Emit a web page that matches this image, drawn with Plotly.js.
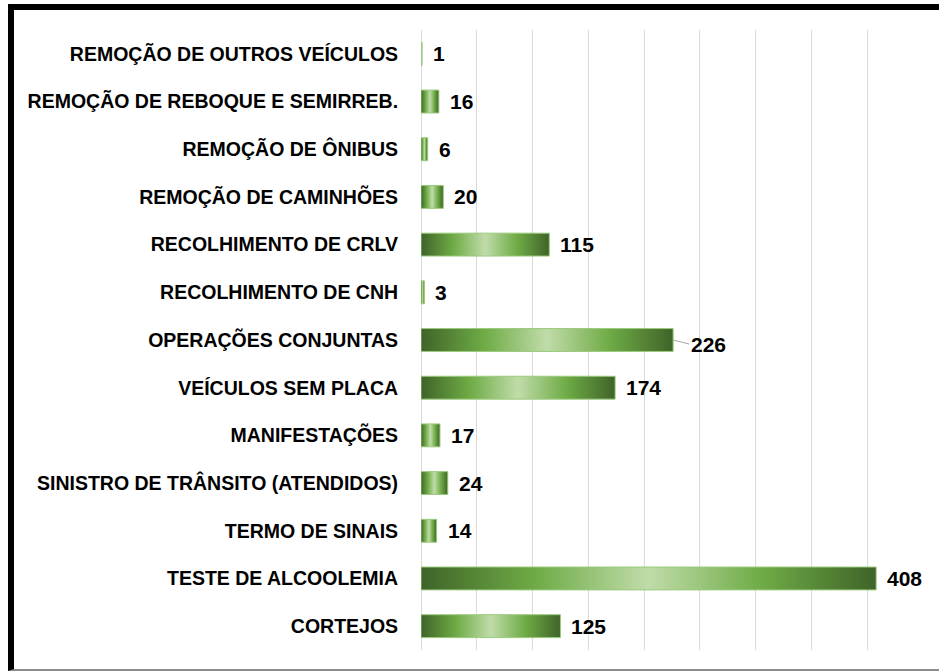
<!DOCTYPE html>
<html><head><meta charset="utf-8">
<script src="https://cdn.plot.ly/plotly-3.0.1.min.js"></script>
<style>
html,body{margin:0;padding:0;background:#fff;}
#chart{width:939px;height:672px;}
#frame{position:absolute;left:8px;top:4px;width:940px;height:659px;border-left:6px solid #000;border-top:6px solid #000;border-bottom:2px solid #8c8c8c;pointer-events:none;}
</style>
</head><body>
<div id="chart"></div><div id="frame"></div>
<script>
const categories = [
  "REMOÇÃO DE OUTROS VEÍCULOS",
  "REMOÇÃO DE REBOQUE E SEMIRREB.",
  "REMOÇÃO DE ÔNIBUS",
  "REMOÇÃO DE CAMINHÕES",
  "RECOLHIMENTO DE CRLV",
  "RECOLHIMENTO DE CNH",
  "OPERAÇÕES CONJUNTAS",
  "VEÍCULOS SEM PLACA",
  "MANIFESTAÇÕES",
  "SINISTRO DE TRÂNSITO (ATENDIDOS)",
  "TERMO DE SINAIS",
  "TESTE DE ALCOOLEMIA",
  "CORTEJOS"
];
const values = [1, 16, 6, 20, 115, 3, 226, 174, 17, 24, 14, 408, 125];
const xTicks = [0, 50, 100, 150, 200, 250, 300, 350, 400, 450];

const FONT = "Liberation Sans, Arial, sans-serif";
const half = 0.24;
const gradient = [[0,'#3f6329'],[0.25,'#6eab45'],[0.5,'#c0dca9'],[0.75,'#6eab45'],[1,'#3f6329']];

const traces = categories.map((c, i) => {
  const v = values[i];
  return {
    type: 'scatter', mode: 'lines', name: c,
    x: [0, v, v, 0, 0],
    y: [i - half, i - half, i + half, i + half, i - half],
    fill: 'toself',
    fillgradient: {type: 'horizontal', colorscale: gradient},
    line: {color: '#9bc97d', width: 1},
    hoverinfo: 'skip', showlegend: false
  };
});

const leaderIdx = categories.indexOf("OPERAÇÕES CONJUNTAS");
const annotations = values.map((v, i) => {
  const a = {
    x: v, y: i, xref: 'x', yref: 'y', text: String(v),
    font: {family: FONT, size: 21, color: '#000', weight: 'bold'},
    xanchor: 'left', yanchor: 'middle', showarrow: false, xshift: 9
  };
  if (i === leaderIdx) {
    a.showarrow = true; a.xshift = 0; a.ax = 16; a.ay = 4;
    a.arrowhead = 0; a.arrowwidth = 1; a.arrowcolor = '#a6a6a6';
  }
  return a;
});

const layout = {
  width: 939, height: 672,
  margin: {l: 421, r: 16, t: 30, b: 22, pad: 0},
  paper_bgcolor: '#fff', plot_bgcolor: '#fff',
  showlegend: false,
  xaxis: {
    range: [0, 450], tickvals: xTicks, showticklabels: false,
    showgrid: true, gridcolor: '#d9d9d9', gridwidth: 1,
    zeroline: true, zerolinecolor: '#d9d9d9', zerolinewidth: 1,
    showline: false, ticks: '', fixedrange: true
  },
  yaxis: {
    range: [12.5, -0.5], tickvals: categories.map((c, i) => i), ticktext: categories,
    showgrid: false, zeroline: false, showline: false,
    ticks: 'outside', ticklen: 18, tickcolor: 'rgba(0,0,0,0)',
    tickfont: {family: FONT, size: 19.5, color: '#000', weight: 'bold'},
    fixedrange: true
  },
  annotations: annotations
};

Plotly.newPlot('chart', traces, layout, {displayModeBar: false, staticPlot: true});
</script>
</body></html>
